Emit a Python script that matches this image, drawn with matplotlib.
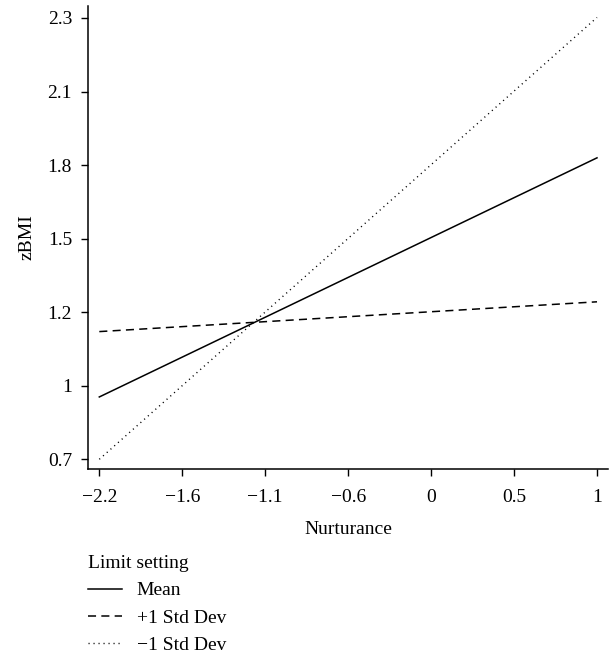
import matplotlib
matplotlib.use("Agg")
import matplotlib.pyplot as plt
import numpy as np

# Data
nurturance = [-2.2, 1.0]
mean_line = [0.926, 1.793]
plus1_line = [1.163, 1.271]
minus1_line = [0.700, 2.302]
series_labels = ["Mean", "+1 Std Dev", "\u22121 Std Dev"]
x_tick_labels = ["\u22122.2", "\u22121.6", "\u22121.1", "\u22120.6", "0", "0.5", "1"]
y_tick_labels = ["0.7", "1", "1.2", "1.5", "1.8", "2.1", "2.3"]

plt.rcParams['font.family'] = ['Liberation Serif', 'DejaVu Serif']
plt.rcParams['lines.scale_dashes'] = False
FS = 14

fig = plt.figure(figsize=(6.12, 6.54), dpi=100)
ax = fig.add_axes([88/612, 1-469/654, (608-88)/612, (469-6)/654])

ax.plot(nurturance, mean_line, color='black', lw=1.1, linestyle='-', label=series_labels[0])
ax.plot(nurturance, plus1_line, color='black', lw=1.1, linestyle=(0, (5.8, 3.8)), label=series_labels[1])
ax.plot(nurturance, minus1_line, color='black', lw=1.0, linestyle=(0, (0.8, 2.8)), label=series_labels[2])

ax.set_xlim(-2.2727, 1.0707)
ax.set_ylim(0.6648, 2.3435)
ax.set_xticks(np.linspace(-2.2, 1.0, 7))
ax.set_xticklabels(x_tick_labels)
ax.set_yticks(np.linspace(0.7, 2.3, 7))
ax.set_yticklabels(y_tick_labels)

for s in ['top', 'right']:
    ax.spines[s].set_visible(False)
for s in ['left', 'bottom']:
    ax.spines[s].set_linewidth(1.1)
ax.tick_params(axis='both', direction='out', length=5, width=1.0, labelsize=FS)
ax.tick_params(axis='x', pad=9.5)
ax.tick_params(axis='y', pad=6.5)

ax.set_xlabel("Nurturance", fontsize=FS, labelpad=11)
ax.set_ylabel("zBMI", fontsize=FS, labelpad=9)

leg = ax.legend(loc='upper left', bbox_to_anchor=(88/612, 1-555/654),
                bbox_transform=fig.transFigure, frameon=False, fontsize=FS,
                title="Limit setting", title_fontsize=FS, alignment='left',
                handlelength=1.75, handletextpad=0.75, labelspacing=0.5, borderpad=0,
                borderaxespad=0)

fig.savefig("out.png", dpi=100)
